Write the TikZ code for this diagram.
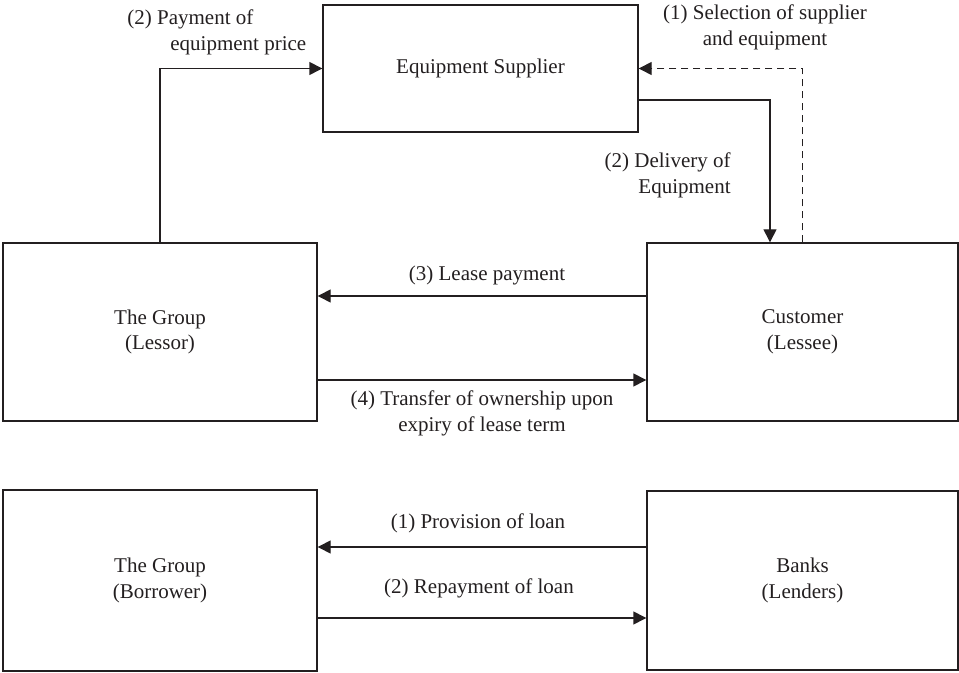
\documentclass[tikz,border=0pt]{standalone}
\usepackage{fontspec}
\setmainfont{Liberation Serif}
\usetikzlibrary{arrows.meta}
\definecolor{ink}{RGB}{35,31,32}
\tikzset{
  partybox/.style={draw=ink, line width=0.7pt, align=center, inner sep=0pt, text=ink},
  flow/.style={draw=ink, line width=0.7pt, -{Triangle[length=6.5pt,width=6.5pt]}},
  flowlabel/.style={text=ink, inner sep=0pt},
}
\newcommand{\party}[6]{\node[partybox, minimum width=#4, minimum height=#5] (#1) at (#2,#3) {#6};}
\newcommand{\flowlabl}[6]{\node[flowlabel, anchor=#4, align=#5] (#1) at (#2,#3) {#6};}

\begin{document}
\begin{tikzpicture}[x=0.5pt, y=-0.5pt, font=\fontsize{10.5pt}{12.8pt}\selectfont]
        \useasboundingbox (0,0) rectangle (959,673);

        % leasing
        \party{supplier}{480.5}{68.5}{157.5pt}{63.5pt}{Equipment Supplier}
        \party{lessor}{160}{332}{157pt}{89pt}{The Group\\(Lessor)}
        \party{lessee}{802.5}{332}{155.5pt}{89pt}{Customer\\(Lessee)}

        \draw[flow] (lessor.north) |- (supplier.west);
        \draw[flow] ([yshift=-15.75pt]supplier.east) -| ([xshift=-16.25pt]lessee.north);
        \draw[flow, dash pattern=on 3.5pt off 2.5pt] (lessee.north) |- (supplier.east);
        \draw[flow] ([yshift=18pt]lessee.west) -- ([yshift=18pt]lessor.east);
        \draw[flow] ([yshift=-24pt]lessor.east) -- ([yshift=-24pt]lessee.west);

        \flowlabl{pay}{127}{32.5}{west}{left}{(2) Payment of\\\hspace*{21.5pt}equipment price}
        \flowlabl{select}{765}{27.5}{center}{center}{(1) Selection of supplier\\and equipment}
        \flowlabl{deliver}{731}{175.5}{east}{right}{(2) Delivery of\\Equipment}
        \flowlabl{lease}{487}{275}{center}{center}{(3) Lease payment}
        \flowlabl{transfer}{482}{413.5}{center}{center}{(4) Transfer of ownership upon\\expiry of lease term}

        % loan
        \party{borrower}{160}{580.5}{157pt}{90.5pt}{The Group\\(Borrower)}
        \party{banks}{802.5}{580.5}{155.5pt}{89.5pt}{Banks\\(Lenders)}

        \draw[flow] ([yshift=16.75pt]banks.west) -- ([yshift=16.75pt]borrower.east);
        \draw[flow] ([yshift=-18.75pt]borrower.east) -- ([yshift=-18.75pt]banks.west);

        \flowlabl{provide}{478}{523}{center}{center}{(1) Provision of loan}
        \flowlabl{repay}{479}{588}{center}{center}{(2) Repayment of loan}
\end{tikzpicture}
\end{document}
